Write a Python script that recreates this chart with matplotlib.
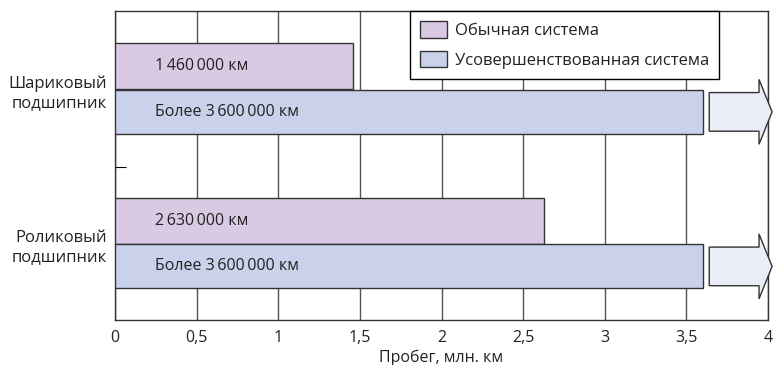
import matplotlib
matplotlib.use("Agg")
import matplotlib.pyplot as plt
from matplotlib.patches import Polygon

plt.rcParams['font.family'] = ['Open Sans', 'DejaVu Sans']
plt.rcParams['text.color'] = '#222222'

categories = ["Роликовый\nподшипник", "Шариковый\nподшипник"]
conventional = [2.63, 1.46]
improved = [3.6, 3.6]
conv_labels = ["2\u2009630\u2009000 км", "1\u2009460\u2009000 км"]
impr_labels = ["Более 3\u2009600\u2009000 км", "Более 3\u2009600\u2009000 км"]
xticks = [0, 0.5, 1, 1.5, 2, 2.5, 3, 3.5, 4]
xticklabels = ["0", "0,5", "1", "1,5", "2", "2,5", "3", "3,5", "4"]
legend_labels = ["Обычная система", "Усовершенствованная система"]

c_conv = "#d9c9e3"
c_impr = "#c9d2ea"
c_arrow = "#e9edf8"
edge = "#333333"

fig = plt.figure(figsize=(7.73, 3.65), dpi=100)
ax = fig.add_axes([115/773, 1-320/365, 653/773, 309/365])

ypos = [0, 1]
b1 = ax.barh([y + 0.152 for y in ypos], conventional, height=0.3, color=c_conv,
             edgecolor=edge, linewidth=1, zorder=3, label=legend_labels[0])
b2 = ax.barh([y - 0.143 for y in ypos], improved, height=0.285, color=c_impr,
             edgecolor=edge, linewidth=1, zorder=3, label=legend_labels[1])

for y, t in zip(ypos, conv_labels):
    ax.text(0.245, y + 0.152, t, va='center', ha='left', fontsize=11.5, zorder=4)
for y, t in zip(ypos, impr_labels):
    ax.text(0.245, y - 0.143, t, va='center', ha='left', fontsize=11.5, zorder=4)

# "more than" arrows
for y, v in zip(ypos, improved):
    yc = y - 0.143
    x0 = v + 0.04
    xh = v + 0.345
    xt = v + 0.425
    bh = 0.125
    hh = 0.21
    pts = [(x0, yc + bh), (xh, yc + bh), (xh, yc + hh), (xt, yc),
           (xh, yc - hh), (xh, yc - bh), (x0, yc - bh)]
    ax.add_patch(Polygon(pts, closed=True, facecolor=c_arrow, edgecolor=edge,
                         linewidth=1, zorder=3, clip_on=False))

ax.set_xlim(0, 4)
ax.set_ylim(-0.49, 1.51)
ax.set_xticks(xticks)
ax.set_xticklabels(xticklabels, fontsize=11.5)
ax.set_yticks(ypos)
ax.set_yticklabels(categories, fontsize=12, linespacing=1.25)
ax.set_yticks([0.5], minor=True)
ax.tick_params(axis='y', which='major', length=0, pad=6, labelcolor='#222222')
ax.tick_params(axis='y', which='minor', length=8, direction='in', width=0.8)
ax.tick_params(axis='x', length=0, pad=7, labelcolor='#222222')
ax.grid(axis='x', color='#555555', linewidth=1, zorder=0)
ax.set_axisbelow(True)
for s in ax.spines.values():
    s.set_color(edge)
    s.set_linewidth(1)
ax.set_xlabel("Пробег, млн. км", fontsize=11.5, labelpad=3, color='#222222')

leg = ax.legend(loc='upper left', bbox_to_anchor=(0.452, 1.0), borderaxespad=0,
                fancybox=False, edgecolor='black', framealpha=1, fontsize=12,
                handlelength=1.6, handleheight=1.15, handletextpad=0.5,
                borderpad=0.6, labelspacing=0.72)
leg.get_frame().set_linewidth(1)
leg.set_zorder(5)

fig.savefig("out.png", dpi=100)
